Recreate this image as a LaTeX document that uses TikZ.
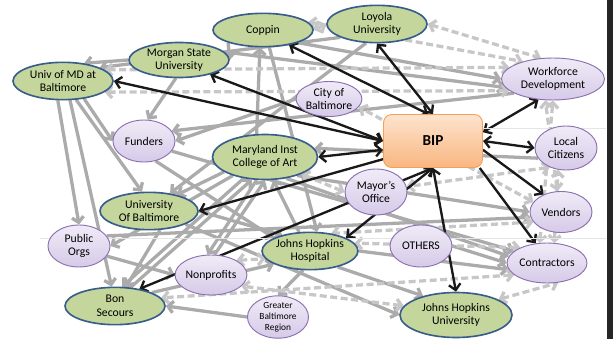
\documentclass[tikz,border=0pt]{standalone}
\usepackage{fontspec}
\setmainfont{Carlito}
\usepackage{tikz}
\usetikzlibrary{shapes.geometric,arrows.meta,backgrounds}
\usepackage{xcolor}

\definecolor{instfill}{RGB}{196,214,155}
\definecolor{instline}{RGB}{56,93,138}
\definecolor{grptop}{RGB}{240,235,247}
\definecolor{grpbot}{RGB}{214,202,232}
\definecolor{grpline}{RGB}{140,112,176}
\definecolor{biptop}{RGB}{253,228,206}
\definecolor{bipbot}{RGB}{249,182,128}
\definecolor{bipline}{RGB}{244,160,90}

\begin{document}
\begin{tikzpicture}[
    x=0.03cm, y=-0.03cm,
    inst/.style={ellipse, draw=instline, fill=instfill, line width=1.4pt, inner sep=0pt, minimum width=3cm, minimum height=1.12cm, align=center, font=\fontsize{10}{11.5}\selectfont},
    group/.style={ellipse, draw=grpline, top color=grptop, bottom color=grpbot, line width=0.8pt, inner sep=0pt, minimum width=1.86cm, minimum height=1.26cm, align=center, font=\fontsize{10}{11.5}\selectfont},
    hub/.style={rectangle, rounded corners=7pt, draw=bipline, top color=biptop, bottom color=bipbot, line width=0.8pt, minimum width=2.97cm, minimum height=1.59cm, font=\fontsize{13}{15}\selectfont\bfseries},
    link/.style={draw=black!33, line width=2.8pt, -{Straight Barb[length=4.5pt,width=10pt]}},
    dlink/.style={draw=black!22, line width=2.8pt, dash pattern=on 6pt off 3pt, {Straight Barb[length=4.5pt,width=10pt]}-{Straight Barb[length=4.5pt,width=10pt]}},
    arrow/.style={draw=black!90, line width=2pt, {Straight Barb[length=5pt,width=10pt]}-{Straight Barb[length=5pt,width=10pt]}}
]
\useasboundingbox (0,0) rectangle (613,339);

% Slide edge
\draw[black!10, line width=0.6pt] (40,238) -- (606,238);
\draw[black!10, line width=0.6pt] (482,128) -- (606,128);
\fill[black!85] (607,0) rectangle (613,339);

% Hub
\node[hub] (bip) at (433,141) {BIP};

% Schools and hospitals
\node[inst, minimum height=1cm] (coppin) at (263,30) {Coppin};
\node[inst] (loyola) at (377,24) {Loyola\\University};
\node[inst, minimum height=1.05cm] (morgan) at (179,60) {Morgan State\\University};
\node[inst] (umd) at (63,81) {Univ of MD at\\Baltimore};
\node[inst, minimum width=3.15cm, minimum height=1.35cm] (mica) at (265,157) {Maryland Inst\\College of Art};
\node[inst, minimum width=2.94cm] (ubalt) at (149,211) {University\\Of Baltimore};
\node[inst, minimum width=2.76cm] (jhh) at (310,251) {Johns Hopkins\\Hospital};
\node[inst] (bon) at (115,306) {Bon\\Secours};
\node[inst, minimum width=3.36cm, minimum height=1.35cm] (jhu) at (456,315) {Johns Hopkins\\University};

% Other groups
\node[group, minimum width=1.8cm, minimum height=1.05cm] (city) at (329,99) {City of\\Baltimore};
\node[group, minimum width=3.09cm] (workforce) at (553,79) {Workforce\\Development};
\node[group, minimum height=1.32cm] (citizens) at (566,148) {Local\\Citizens};
\node[group] (funders) at (144,141) {Funders};
\node[group, minimum height=1.38cm] (mayor) at (376,192) {Mayor’s\\Office};
\node[group, minimum height=1.23cm] (vendors) at (561,212) {Vendors};
\node[group] (public) at (79,246) {Public\\Orgs};
\node[group] (others) at (421,246) {OTHERS};
\node[group, minimum width=2.4cm, minimum height=1.2cm] (contractors) at (547,263) {Contractors};
\node[group, minimum height=1.2cm] (nonprofits) at (211,275) {Nonprofits};
\node[group, minimum width=1.83cm, minimum height=1.2cm, font=\fontsize{8}{9.5}\selectfont] (greater) at (278,317) {Greater\\Baltimore\\Region};

\begin{pgfonlayer}{background}
% Gray links
\draw[link] (umd.255) -- (public.north);
\draw[link] (umd.290) -- (bon.100);
\draw[link] (umd.320) -- (funders.west);
\draw[link] (umd.305) -- (ubalt.110);
\draw[link] (morgan.west) -- (umd.40);
\draw[link] (coppin.200) -- (morgan.east);
\draw[link] (morgan.260) -- (funders.80);
\draw[link] (mica.110) -- (coppin.260);
\draw[link] (city.west) -- (funders.east);
\draw[link] (mica.200) -- (ubalt.30);
\draw[link] (mica.210) -- (public.east);
\draw[link] (mica.250) -- (nonprofits.100);
\draw[link] (mica.225) -- (bon.70);
\draw[link] (jhh.250) -- (greater.north);
\draw[link] (greater.west) -- (bon.east);
\draw[link] (ubalt.340) -- (jhu.west);
\draw[link] (mica.330) -- (vendors.west);
\draw[link] (mica.315) -- (contractors.170);
\draw[link] (coppin.340) -- (workforce.west);
\draw[link] (morgan.10) -- (workforce.190);
\draw[link] (others.east) -- (contractors.west);
\draw[link] (ubalt.east) -- (jhh.150);
\draw[link] (public.340) -- (nonprofits.west);
\draw[link] (nonprofits.80) -- (mica.270);
\draw[link] (bon.50) -- (mica.240);
\draw[link] (jhh.120) -- (mica.290);
\draw[link] (loyola.200) -- (umd.20);
\draw[link] (workforce.200) -- (funders.20);
\draw[link] (jhh.east) -- (contractors.190);
\draw[link] (bon.20) -- (jhh.200);
\draw[link] (jhh.330) -- (jhu.150);
\draw[link] (funders.300) -- (jhh.160);
\draw[link] (citizens.200) -- (mica.10);
\draw[link] (coppin.290) -- (jhh.70);
\draw[link] (loyola.240) -- (ubalt.40);
\draw[link] (ubalt.300) -- (bon.60);
\draw[link] (public.20) -- (vendors.190);
\draw[link] (funders.340) -- (contractors.160);

% Dashed links
\draw[dlink] (loyola.west) -- (coppin.east);
\draw[dlink] (loyola.east) -- (workforce.120);
\draw[dlink] (umd.345) -- (workforce.195);
\draw[dlink] (umd.15) -- (workforce.165);
\draw[dlink] (coppin.10) -- (workforce.150);
\draw[dlink] (mayor.west) -- (mica.335);
\draw[dlink] (vendors.100) -- (workforce.250);
\draw[dlink] (contractors.70) -- (citizens.250);
\draw[dlink] (contractors.200) -- (bon.10);
\draw[dlink] (jhu.20) -- (contractors.300);
\draw[dlink] (contractors.150) -- (jhh.10);
\draw[dlink] (nonprofits.30) -- (jhh.190);
\draw[dlink] (vendors.200) -- (jhh.40);
\draw[dlink] (citizens.230) -- (mayor.10);
\draw[dlink] (jhu.170) -- (nonprofits.340);
\draw[dlink] (vendors.160) -- (city.345);
\draw[dlink] (contractors.110) -- (workforce.270);

% BIP arrows
\draw[arrow] (bip.100) -- (coppin.330);
\draw[arrow] (bip.north) -- (loyola.south);
\draw[arrow] (bip.west) -- (morgan.335);
\draw[arrow] (bip.west) -- (umd.east);
\draw[arrow] (bip.190) -- (mica.east);
\draw[arrow, -{Straight Barb[length=5pt,width=10pt]}] (bip.200) -- (ubalt.east);
\draw[arrow, -{Straight Barb[length=5pt,width=10pt]}] (bip.south) -- (bon.35);
\draw[arrow] (bip.south) -- (jhh.20);
\draw[arrow] (bip.south) -- (jhu.north);
\draw[arrow] (bip.10) -- (workforce.235);
\draw[arrow] (bip.east) -- (citizens.west);
\draw[arrow, -{Straight Barb[length=5pt,width=10pt]}] (bip.350) -- (vendors.135);
\draw[arrow, -{Straight Barb[length=5pt,width=10pt]}] (bip.330) -- (contractors.120);
\end{pgfonlayer}

\end{tikzpicture}
\end{document}
